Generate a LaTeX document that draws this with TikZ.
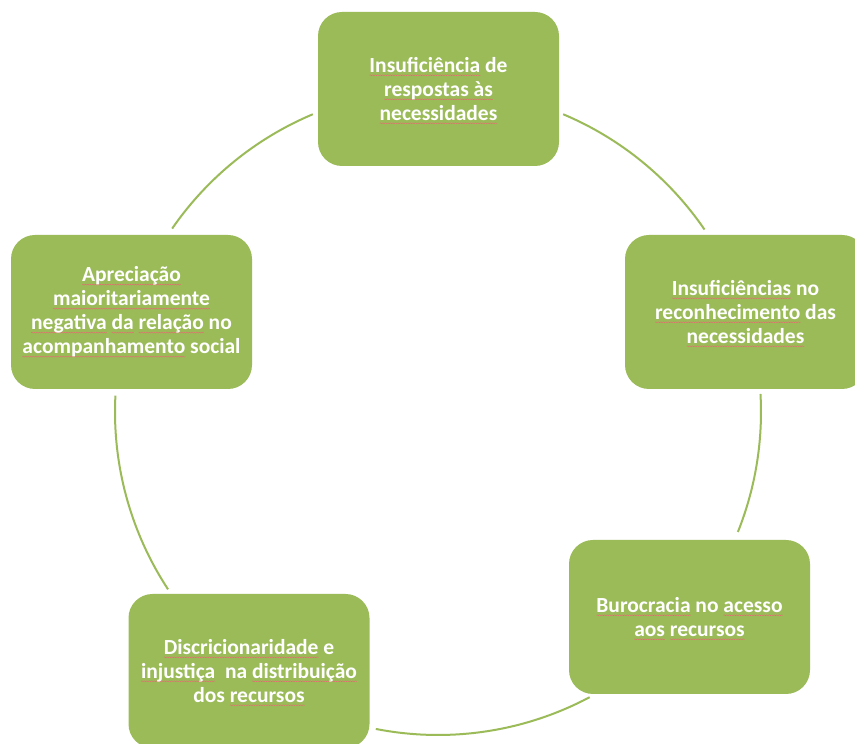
\documentclass[tikz,border=0pt]{standalone}
\usepackage{fontspec}
\setmainfont{Carlito}
\usetikzlibrary{calc,decorations.pathmorphing}
\definecolor{boxgreen}{HTML}{9BBB59}
\definecolor{sqred}{HTML}{E07070}
\newlength\sqlen
\newsavebox\sqbox
\newcommand\sqw[1]{\sbox\sqbox{#1}\setlength\sqlen{\wd\sqbox}%
  \rlap{\tikz[overlay,baseline=0pt]\path[sqline] (0pt,-2.8pt) -- (\sqlen,-2.8pt);}\usebox\sqbox}
\begin{document}
\begin{tikzpicture}[x=1pt,y=1pt,
  stage/.style={fill=boxgreen, rounded corners=24pt, minimum width=241pt,
    minimum height=154pt, inner sep=0pt, align=center, text=white,
    font=\fontsize{21.5}{24}\selectfont\bfseries},
  link/.style={draw=boxgreen, line width=2pt},
  sqline/.style={sharp corners, fill=none, draw=sqred, line width=0.5pt, decorate,
    decoration={snake, amplitude=0.4pt, segment length=2.5pt}}]
\useasboundingbox (0,0) rectangle (855,744);
\clip (0,0) rectangle (855,744);
\coordinate (c) at (438,332);
% nodes
\node[stage] (n1) at (438.5,655) {\sqw{Insuficiência} de\\ \sqw{respostas às}\\ \sqw{necessidades}};
\node[stage] (n2) at (745.5,432) {\sqw{Insuficiências} no\\ \sqw{reconhecimento} das\\ \sqw{necessidades}};
\node[stage] (n3) at (689.5,127) {\sqw{Burocracia} no \sqw{acesso}\\ \sqw{aos} \sqw{recursos}};
\node[stage] (n4) at (249,73) {\sqw{Discricionaridade} e\\ \sqw{injustiça}\ \ na \sqw{distribuição}\\ dos \sqw{recursos}};
\node[stage] (n5) at (131.5,432) {\sqw{Apreciação}\\ \sqw{maioritariamente}\\ \sqw{negativa} \sqw{da} \sqw{relação} no\\ \sqw{acompanhamento} social};
% arc end points
\coordinate (s1) at ($(c)+(112.8:323)$);
\coordinate (s2) at ($(c)+(67.2:323)$);
\coordinate (s3) at ($(c)+(3.2:323)$);
\coordinate (s4) at ($(c)+(-62.0:323)$);
\coordinate (s5) at ($(c)+(177.1:323)$);
% connectors
\draw[link] (s1) arc[start angle=112.8, end angle=145.4, radius=323];
\draw[link] (s2) arc[start angle=67.2, end angle=34.4, radius=323];
\draw[link] (s3) arc[start angle=3.2, end angle=-21.8, radius=323];
\draw[link] (s4) arc[start angle=-62.0, end angle=-101.1, radius=323];
\draw[link] (s5) arc[start angle=177.1, end angle=213.3, radius=323];
\end{tikzpicture}
\end{document}
